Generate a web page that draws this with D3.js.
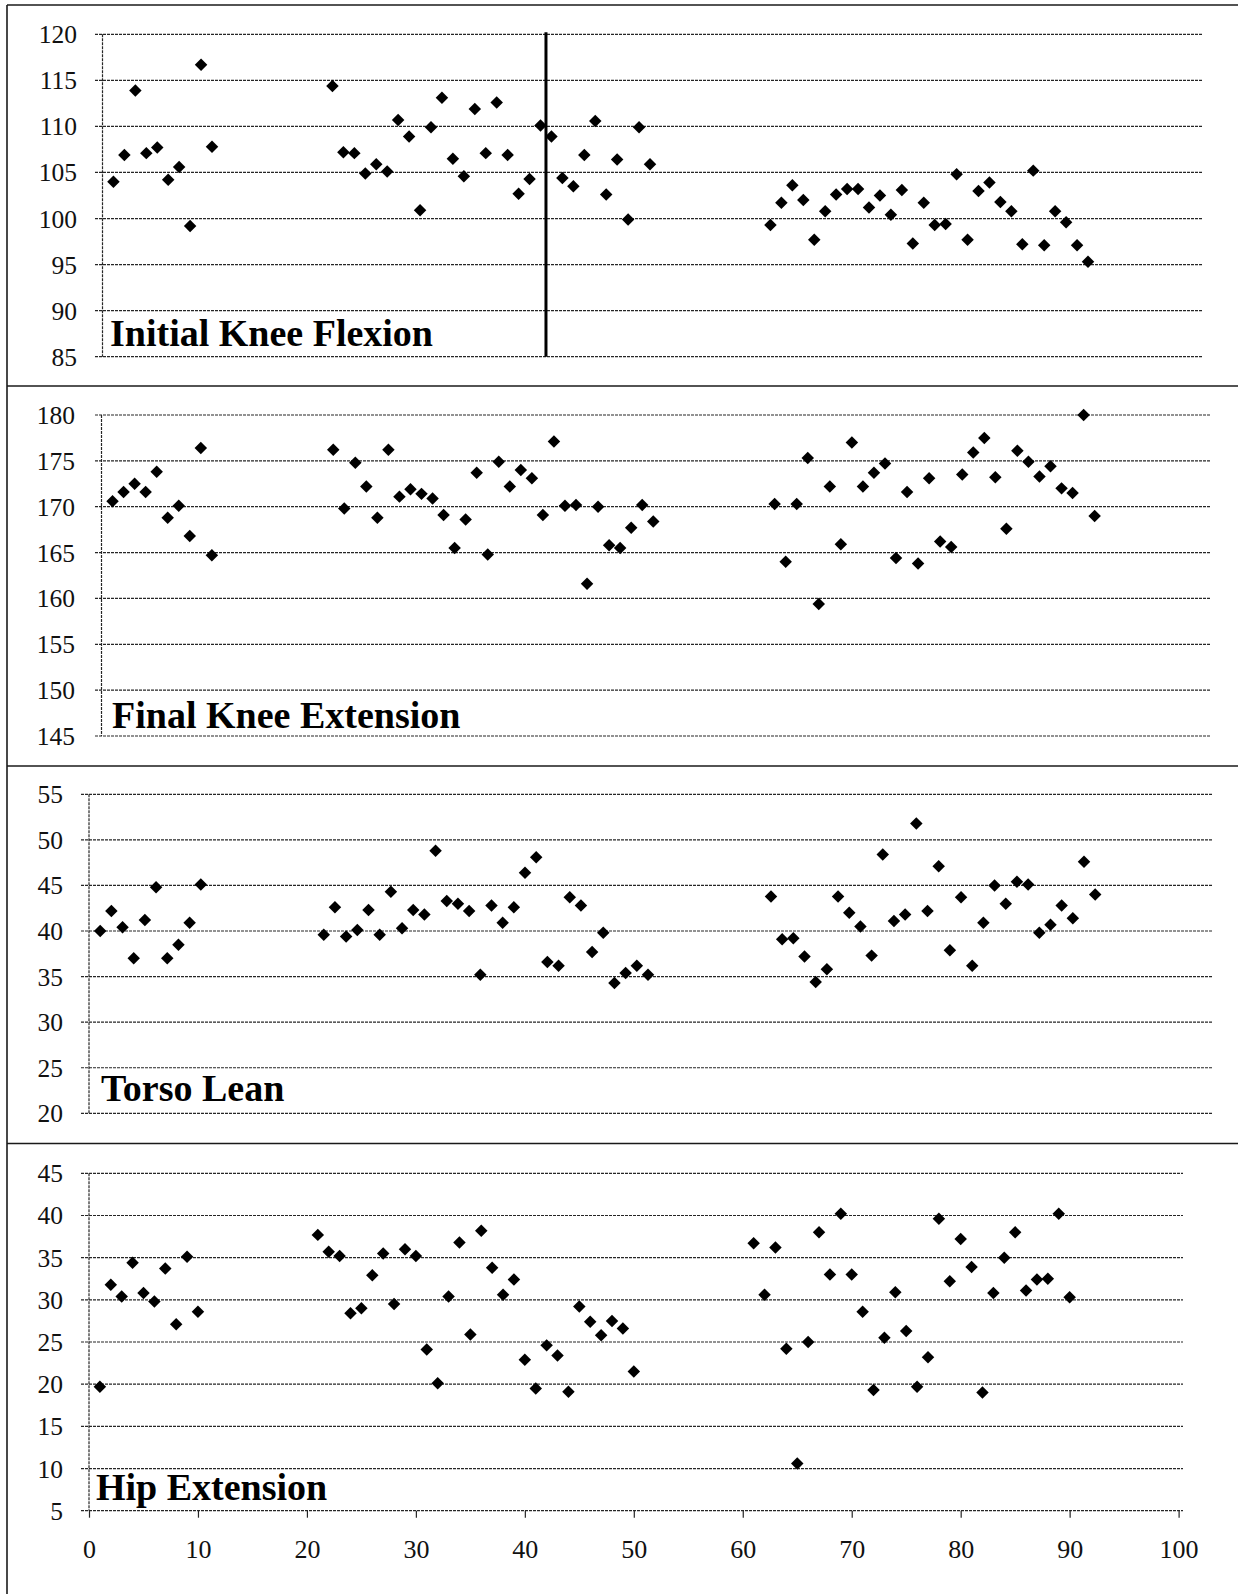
<!DOCTYPE html>
<html>
<head>
<meta charset="utf-8">
<script src="https://cdn.jsdelivr.net/npm/d3@7"></script>
<style>
  html, body { margin: 0; padding: 0; background: #fff; }
  svg { display: block; }
</style>
</head>
<body>
<svg id="chart" width="1238" height="1594"></svg>
<script>
// Trial numbers (three blocks of trials)
const trials = [
  1, 2, 3, 4, 5, 6, 7, 8, 9, 10,
  21, 22, 23, 24, 25, 26, 27, 28, 29, 30, 31, 32, 33, 34, 35, 36, 37, 38, 39, 40,
  41, 42, 43, 44, 45, 46, 47, 48, 49, 50,
  61, 62, 63, 64, 65, 66, 67, 68, 69, 70, 71, 72, 73, 74, 75, 76, 77, 78, 79, 80,
  81, 82, 83, 84, 85, 86, 87, 88, 89, 90
];

// Joint angles (degrees) per trial
const initialKneeFlexion = [
  104.0, 106.9, 113.9, 107.1, 107.7, 104.2, 105.6, 99.2, 116.7, 107.8,
  114.4, 107.2, 107.1, 104.9, 105.9, 105.1, 110.7, 108.9, 100.9, 109.9,
  113.1, 106.5, 104.6, 111.9, 107.1, 112.6, 106.9, 102.7, 104.3, 110.1,
  108.9, 104.4, 103.5, 106.9, 110.6, 102.6, 106.4, 99.9, 109.9, 105.9,
  99.3, 101.7, 103.6, 102.0, 97.7, 100.8, 102.6, 103.2, 103.2, 101.2,
  102.5, 100.4, 103.1, 97.3, 101.7, 99.3, 99.4, 104.8, 97.7, 103.0,
  103.9, 101.8, 100.8, 97.2, 105.2, 97.1, 100.8, 99.6, 97.1, 95.3
];

const finalKneeExtension = [
  170.6, 171.6, 172.5, 171.6, 173.8, 168.8, 170.1, 166.8, 176.4, 164.7,
  176.2, 169.8, 174.8, 172.2, 168.8, 176.2, 171.1, 171.9, 171.4, 170.9,
  169.1, 165.5, 168.6, 173.7, 164.8, 174.9, 172.2, 174.0, 173.1, 169.1,
  177.1, 170.1, 170.2, 161.6, 170.0, 165.8, 165.5, 167.7, 170.2, 168.4,
  170.3, 164.0, 170.3, 175.3, 159.4, 172.2, 165.9, 177.0, 172.2, 173.7,
  174.7, 164.4, 171.6, 163.8, 173.1, 166.2, 165.6, 173.5, 175.9, 177.5,
  173.2, 167.6, 176.1, 174.9, 173.3, 174.4, 172.0, 171.5, 180.0, 169.0
];

const torsoLean = [
  40.0, 42.2, 40.4, 37.0, 41.2, 44.8, 37.0, 38.5, 40.9, 45.1,
  39.6, 42.6, 39.4, 40.1, 42.3, 39.6, 44.3, 40.3, 42.3, 41.8,
  48.8, 43.3, 43.0, 42.2, 35.2, 42.8, 40.9, 42.6, 46.4, 48.1,
  36.6, 36.2, 43.7, 42.8, 37.7, 39.8, 34.3, 35.4, 36.2, 35.2,
  43.8, 39.1, 39.2, 37.2, 34.4, 35.8, 43.8, 42.0, 40.5, 37.3,
  48.4, 41.1, 41.8, 51.8, 42.2, 47.1, 37.9, 43.7, 36.2, 40.9,
  45.0, 43.0, 45.4, 45.1, 39.8, 40.7, 42.8, 41.4, 47.6, 44.0
];

const hipExtension = [
  19.7, 31.8, 30.4, 34.4, 30.8, 29.8, 33.7, 27.1, 35.1, 28.6,
  37.7, 35.7, 35.2, 28.4, 29.0, 32.9, 35.5, 29.5, 36.0, 35.2,
  24.1, 20.1, 30.4, 36.8, 25.9, 38.2, 33.8, 30.6, 32.4, 22.9,
  19.5, 24.6, 23.4, 19.1, 29.2, 27.4, 25.8, 27.5, 26.6, 21.5,
  36.7, 30.6, 36.2, 24.2, 10.6, 25.0, 38.0, 33.0, 40.2, 33.0,
  28.6, 19.3, 25.5, 30.9, 26.3, 19.7, 23.2, 39.6, 32.2, 37.2,
  33.9, 19.0, 30.8, 35.0, 38.0, 31.1, 32.4, 32.5, 40.2, 30.3
];

// Tick values
const flexionTicks   = [85, 90, 95, 100, 105, 110, 115, 120];
const extensionTicks = [145, 150, 155, 160, 165, 170, 175, 180];
const torsoTicks     = [20, 25, 30, 35, 40, 45, 50, 55];
const hipTicks       = [5, 10, 15, 20, 25, 30, 35, 40, 45];
const trialTicks     = [0, 10, 20, 30, 40, 50, 60, 70, 80, 90, 100];

// Panel titles and the trial at which the first panel is split
const panelTitles = ["Initial Knee Flexion", "Final Knee Extension", "Torso Lean", "Hip Extension"];
const splitTrial = 40.5;

const FONT = "'Liberation Serif', 'Times New Roman', Times, serif";

const svg = d3.select("#chart");

// Page frame: left rule and horizontal separators between panels
const frameColor = "#1a1a1a";
svg.append("line")
  .attr("x1", 7).attr("x2", 7).attr("y1", 5).attr("y2", 1594)
  .attr("stroke", frameColor).attr("stroke-width", 1.6);
[5, 386, 766, 1143.5].forEach(y => {
  svg.append("line")
    .attr("x1", 7).attr("x2", 1238).attr("y1", y).attr("y2", y)
    .attr("stroke", frameColor).attr("stroke-width", 1.6);
});

// Panel geometry (plot areas)
const layout = [
  { values: initialKneeFlexion, ticks: flexionTicks,   x0: 102.5, x1: 1197.5, yTop: 34.3,   yBot: 356.7,  gridL: 95, gridR: 1203, labelR: 77, titleX: 110, titleY: 346, split: true },
  { values: finalKneeExtension, ticks: extensionTicks, x0: 101.5, x1: 1205,   yTop: 415,    yBot: 736,    gridL: 95, gridR: 1211, labelR: 75, titleX: 112, titleY: 728 },
  { values: torsoLean,          ticks: torsoTicks,     x0: 89,    x1: 1207,   yTop: 794.3,  yBot: 1113.3, gridL: 81, gridR: 1212, labelR: 63, titleX: 101, titleY: 1101 },
  { values: hipExtension,       ticks: hipTicks,       x0: 89,    x1: 1178.6, yTop: 1173.3, yBot: 1510.7, gridL: 81, gridR: 1183, labelR: 63, titleX: 96,  titleY: 1500, xAxis: true }
];

const diamond = d3.symbol().type(d3.symbolSquare).size(78);
const gridColor = "#262626";

layout.forEach((p, i) => {
  const g = svg.append("g");
  const x = d3.scaleLinear().domain([0, 100]).range([p.x0, p.x1]);
  const y = d3.scaleLinear().domain(d3.extent(p.ticks)).range([p.yBot, p.yTop]);

  // Horizontal gridlines (extend left of the axis as tick marks)
  g.append("g").selectAll("line")
    .data(p.ticks)
    .join("line")
    .attr("x1", p.gridL).attr("x2", p.gridR)
    .attr("y1", d => y(d)).attr("y2", d => y(d))
    .attr("stroke", gridColor).attr("stroke-width", 1.2)
    .attr("stroke-dasharray", "3,1");

  // Vertical value axis line
  g.append("line")
    .attr("x1", x(0)).attr("x2", x(0))
    .attr("y1", y.range()[1]).attr("y2", y.range()[0])
    .attr("stroke", gridColor).attr("stroke-width", 1.2)
    .attr("stroke-dasharray", "3,1");

  // Value tick labels
  g.append("g").selectAll("text")
    .data(p.ticks)
    .join("text")
    .attr("x", p.labelR)
    .attr("y", d => y(d) + 9)
    .attr("text-anchor", "end")
    .attr("font-family", FONT)
    .attr("font-size", 25.5)
    .attr("fill", "#111")
    .text(d => d);

  // Split marker in the first panel
  if (p.split) {
    g.append("line")
      .attr("x1", x(splitTrial)).attr("x2", x(splitTrial))
      .attr("y1", y.range()[1] - 2).attr("y2", y.range()[0])
      .attr("stroke", "#000").attr("stroke-width", 3);
  }

  // Trial axis with ticks and labels on the bottom panel
  if (p.xAxis) {
    const axis = d3.axisBottom(x).tickValues(trialTicks).tickSize(7).tickPadding(22);
    const ax = g.append("g")
      .attr("transform", `translate(0,${y.range()[0]})`)
      .call(axis);
    ax.select(".domain").remove();
    ax.selectAll(".tick line").attr("stroke", gridColor).attr("stroke-width", 1.2);
    ax.selectAll(".tick text")
      .attr("font-family", FONT)
      .attr("font-size", 26)
      .attr("fill", "#111");
  }

  // Data points (diamonds)
  g.append("g").selectAll("path")
    .data(trials.map((t, k) => ({ t, v: p.values[k] })))
    .join("path")
    .attr("d", diamond)
    .attr("transform", d => `translate(${x(d.t)},${y(d.v)}) rotate(45)`)
    .attr("fill", "#000");

  // Panel title
  g.append("text")
    .attr("x", p.titleX).attr("y", p.titleY)
    .attr("font-family", FONT)
    .attr("font-weight", "bold")
    .attr("font-size", 38)
    .attr("fill", "#000")
    .text(panelTitles[i]);
});
</script>
</body>
</html>
